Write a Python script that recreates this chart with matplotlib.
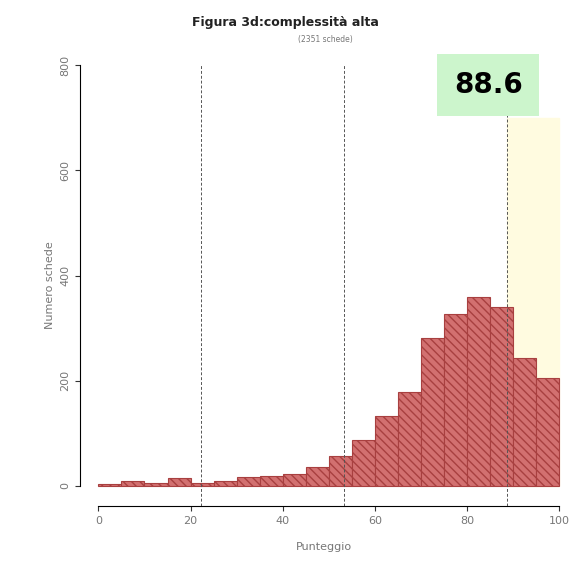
import matplotlib
matplotlib.use("Agg")
import matplotlib.pyplot as plt
import numpy as np

# histogram bins (Punteggio) and counts
bin_edges = list(range(0, 105, 5))
counts = [4, 10, 6, 16, 5, 9, 17, 19, 23, 36, 57, 87, 133, 179, 281, 327, 359, 340, 243, 205]
ref_lines = [22.3, 53.3, 88.6]
highlight = 88.6

fig = plt.figure(figsize=(5.71, 5.71), dpi=100)
ax = fig.add_axes([0.140, 0.114, 0.855, 0.772])
ax.set_xlim(-4, 101.9)
ax.set_ylim(-38, 800)

ax.axvspan(highlight, 100, ymin=0.045, ymax=0.88, color="#fffbe0", zorder=0)

left = np.array(bin_edges[:-1])
ax.bar(left, counts, width=5, align="edge", color="#d27070",
       edgecolor="#a84040", linewidth=0.8, hatch="\\\\\\\\", zorder=2)
plt.rcParams["hatch.color"] = "#b24c4c"

for v in ref_lines:
    ax.axvline(v, color="#555555", linestyle=(0, (3, 2)), linewidth=0.7, zorder=3)

for s in ["top", "right"]:
    ax.spines[s].set_visible(False)
ax.spines["left"].set_bounds(0, 800)
ax.spines["bottom"].set_bounds(0, 100)
ax.set_xticks([0, 20, 40, 60, 80, 100])
ax.set_yticks([0, 200, 400, 600, 800])
ax.tick_params(labelsize=8, colors="#333333", labelcolor="#777777")
for lbl in ax.get_yticklabels():
    lbl.set_rotation(90)
    lbl.set_va("center")
ax.set_xlabel("Punteggio", fontsize=8, color="#777777", labelpad=12)
ax.set_ylabel("Numero schede", fontsize=8, color="#777777")

fig.text(0.5, 0.955, "Figura 3d:complessità alta", ha="center", fontsize=9,
         fontweight="bold", color="#222222")
fig.text(0.57, 0.927, "(2351 schede)", ha="center", fontsize=5.5, color="#777777")

fig.text(0.855, 0.851, "88.6", ha="center", va="center", fontsize=20,
         fontweight="bold", color="black",
         bbox=dict(boxstyle="square,pad=0.6", facecolor="#ccf5cc", edgecolor="none"))

fig.savefig("out.png", dpi=100)
